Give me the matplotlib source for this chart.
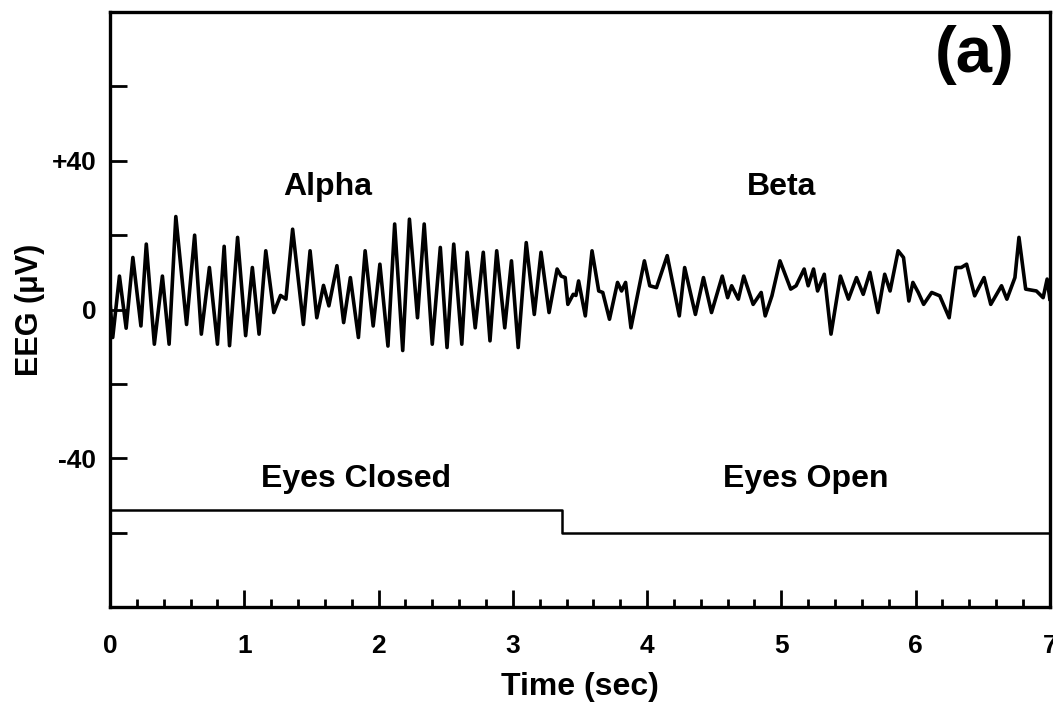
import matplotlib.pyplot as plt
import numpy as np

plt.rcParams['font.family'] = ['Liberation Sans', 'DejaVu Sans']
plt.rcParams['font.weight'] = 'bold'

# EEG trace (time in s, amplitude in uV)
t = [0.00, 0.02, 0.07, 0.12, 0.17, 0.23, 0.27, 0.33, 0.39, 0.44, 0.49, 0.57, 0.63, 0.68,
     0.74, 0.80, 0.85, 0.89, 0.95, 1.01, 1.06, 1.11, 1.16, 1.22, 1.27, 1.31, 1.36, 1.44,
     1.49, 1.54, 1.59, 1.63, 1.69, 1.74, 1.79, 1.85, 1.90, 1.96, 2.01, 2.07, 2.12, 2.18,
     2.23, 2.29, 2.34, 2.40, 2.46, 2.51, 2.56, 2.62, 2.66, 2.72, 2.78, 2.83, 2.88, 2.94,
     2.99, 3.04, 3.10, 3.16, 3.21, 3.27, 3.33, 3.36, 3.39, 3.41, 3.45, 3.47, 3.49, 3.54,
     3.59, 3.64, 3.67, 3.72, 3.78, 3.81, 3.84, 3.88, 3.92, 3.98, 4.02, 4.07, 4.15, 4.24,
     4.28, 4.36, 4.42, 4.48, 4.56, 4.60, 4.63, 4.68, 4.72, 4.79, 4.85, 4.88, 4.93, 4.99,
     5.07, 5.11, 5.17, 5.20, 5.24, 5.27, 5.32, 5.37, 5.44, 5.50, 5.56, 5.61, 5.66, 5.72,
     5.77, 5.81, 5.87, 5.91, 5.95, 5.98, 6.02, 6.06, 6.12, 6.18, 6.25, 6.30, 6.34, 6.38,
     6.44, 6.51, 6.56, 6.64, 6.68, 6.74, 6.77, 6.82, 6.90, 6.95, 6.98, 7.00]
eeg = [2.0, -7.5, 9.0, -5.0, 14.0, -4.4, 17.6, -9.3, 9.0, -9.3, 25.0, -4.0, 20.0, -6.6,
       11.3, -9.3, 17.0, -9.7, 19.4, -7.0, 11.3, -6.6, 15.8, -0.8, 3.8, 2.8, 21.6, -4.0,
       15.8, -2.2, 6.5, 1.0, 11.8, -3.5, 8.6, -7.5, 15.8, -4.4, 12.2, -9.8, 23.0, -11.0,
       24.3, -2.2, 23.0, -9.3, 16.7, -10.2, 17.6, -9.3, 15.4, -4.9, 15.4, -8.4, 15.8, -4.9,
       13.1, -10.2, 18.0, -1.3, 15.4, -0.8, 10.9, 9.0, 8.6, 1.4, 4.1, 3.8, 7.7, -1.7,
       15.8, 5.0, 4.6, -2.6, 7.3, 5.0, 7.3, -4.9, 2.3, 13.1, 6.4, 5.9, 14.5, -1.7,
       11.3, -1.3, 8.6, -0.8, 9.0, 3.2, 6.4, 2.8, 9.0, 1.4, 4.6, -1.7, 3.7, 13.1,
       5.5, 6.4, 10.9, 6.4, 10.9, 5.0, 9.5, -6.6, 9.0, 2.8, 8.6, 4.1, 10.0, -0.8,
       9.5, 5.0, 15.8, 14.0, 2.3, 7.3, 4.6, 1.4, 4.6, 3.7, -2.2, 11.3, 11.3, 12.2,
       3.7, 8.6, 1.4, 6.4, 2.8, 8.6, 19.4, 5.5, 5.0, 3.2, 8.2, 2.8]

# eyes closed / open marker
step_t = [0.0, 3.37, 3.37, 7.0]
step_v = [-54, -54, -60, -60]

fig = plt.figure(figsize=(10.53, 7.02), dpi=100)
ax = fig.add_axes([0.1045, 0.135, 0.8925, 0.848])

ax.plot(t, eeg, color='black', lw=2.6)
ax.plot(step_t, step_v, color='black', lw=1.8)

ax.set_xlim(0, 7)
ax.set_ylim(-80, 80)
ax.set_xticks(range(0, 8))
ax.set_xticks(np.arange(0, 7.01, 0.2), minor=True)
ax.set_yticks([-60, -40, -20, 0, 20, 40, 60])
ax.set_yticklabels(['', '-40', '', '0', '', '+40', ''])
ax.tick_params(axis='both', which='major', direction='in', length=12, width=2,
               labelsize=19)
ax.tick_params(axis='x', which='major', pad=19)
ax.tick_params(axis='y', which='major', pad=10)
ax.tick_params(axis='x', which='minor', direction='in', length=6, width=2)
for lab in ax.get_xticklabels() + ax.get_yticklabels():
    lab.set_fontweight('bold')
for s in ax.spines.values():
    s.set_linewidth(2.4)

ax.set_xlabel('Time (sec)', fontsize=23, fontweight='bold', labelpad=10)
ax.set_ylabel('EEG (\u03bcV)', fontsize=22, fontweight='bold')
ax.yaxis.set_label_coords(-0.069, 0.5)

ax.text(1.62, 33, 'Alpha', fontsize=23, fontweight='bold', ha='center', va='center')
ax.text(5.0, 33, 'Beta', fontsize=23, fontweight='bold', ha='center', va='center')
ax.text(1.83, -45.5, 'Eyes Closed', fontsize=23, fontweight='bold', ha='center', va='center')
ax.text(5.18, -45.5, 'Eyes Open', fontsize=23, fontweight='bold', ha='center', va='center')
ax.text(6.44, 68.5, '(a)', fontsize=47, fontweight='bold', ha='center', va='center')

plt.savefig('out.png', dpi=100)
